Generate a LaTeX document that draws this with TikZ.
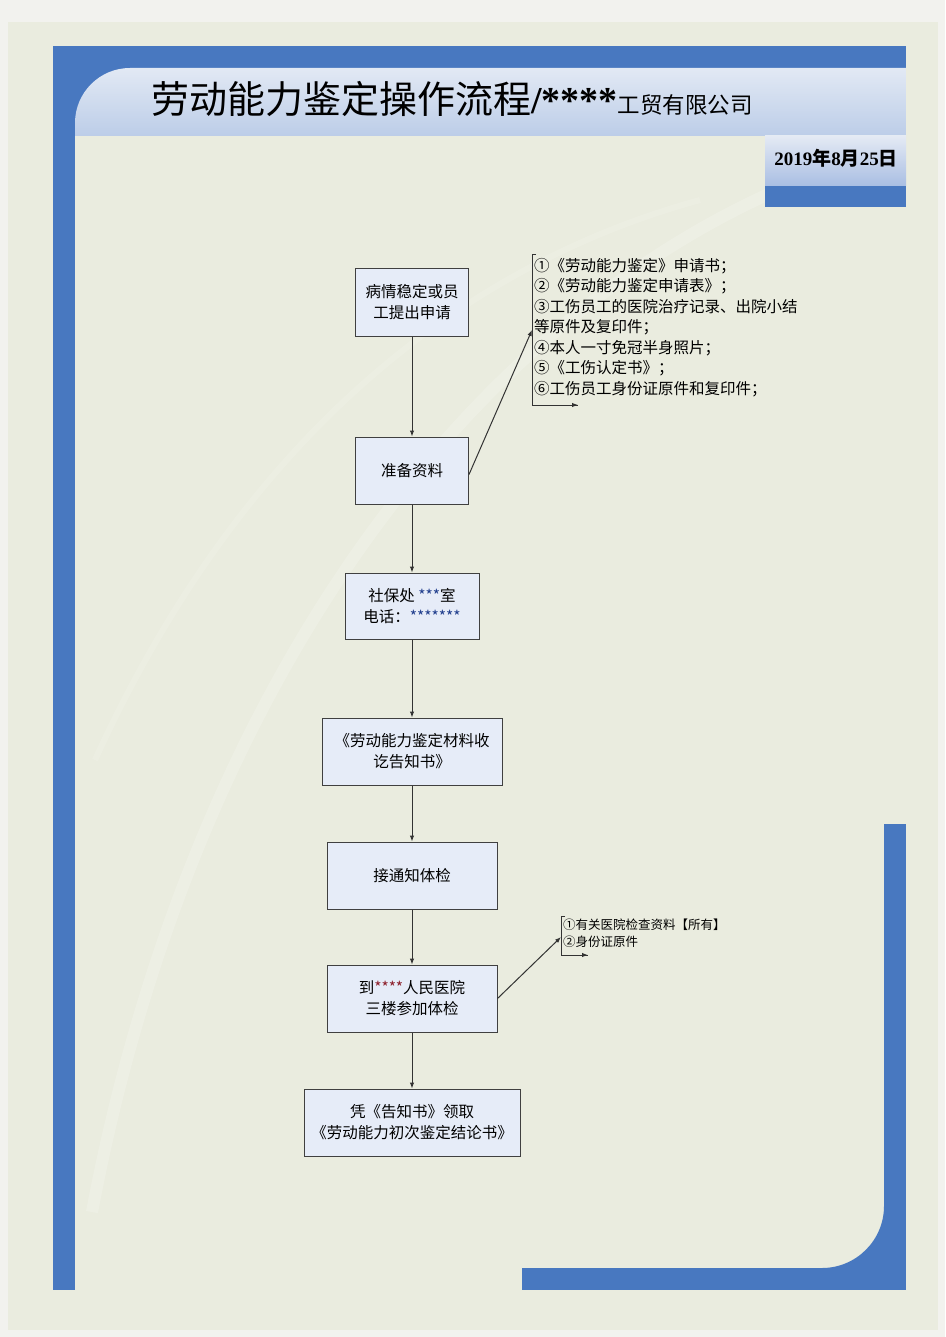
\documentclass[tikz,border=0pt]{standalone}
\usepackage{fontspec}
\setmainfont{Liberation Serif}
\newfontfamily\cjk{Noto Sans CJK SC}
\usetikzlibrary{arrows.meta}
\definecolor{outerbg}{HTML}{F2F2EE}
\definecolor{pagebg}{HTML}{EAECDF}
\definecolor{frameblue}{HTML}{4878C0}
\definecolor{bandtop}{HTML}{E2E9F4}
\definecolor{bandbot}{HTML}{BCCDE8}
\definecolor{datetop}{HTML}{E4EAF4}
\definecolor{datebot}{HTML}{A9BEE3}
\definecolor{boxfill}{HTML}{E6ECF8}
\definecolor{boxline}{HTML}{404040}
\definecolor{linegray}{HTML}{333333}
\definecolor{starblue}{HTML}{1E3C8C}
\definecolor{starred}{HTML}{8C1E2A}
\tikzset{
  flowbox/.style={draw=boxline,line width=1pt,fill=boxfill,inner sep=0pt,align=center,
    font=\cjk\fontsize{15.5}{21}\selectfont},
  conn/.style={draw=linegray,line width=1pt,-{Latex[length=6pt,width=4.5pt]}},
  plainline/.style={draw=linegray,line width=1pt},
  listtext/.style={inner sep=0pt,align=left,anchor=north west}
}
\begin{document}
\begin{tikzpicture}[x=1pt,y=-1pt]
\useasboundingbox (0,0) rectangle (945,1337);
\fill[outerbg] (0,0) rectangle (945,1337);
\fill[pagebg] (8,22) rectangle (938,1330);
% faint swooshes
\draw[white,opacity=0.18,line width=12pt] (92,1212) .. controls (200,640) and (520,250) .. (890,150);
\draw[white,opacity=0.12,line width=6pt] (95,760) .. controls (250,420) and (480,260) .. (700,200);
% frame
\fill[frameblue] (53,46) rectangle (906,136);
\shade[top color=bandtop,bottom color=bandbot] (75,136) [rounded corners=55pt] -- (75,68) [sharp corners] -- (906,68) -- (906,136) -- cycle;
\shade[top color=datetop,bottom color=datebot] (765,136) rectangle (906,186);
\fill[frameblue] (765,186) rectangle (906,207);
\fill[frameblue] (53,46) rectangle (75,1290);
\fill[frameblue] (884,824) rectangle (906,1290);
\fill[frameblue] (522,1268) rectangle (906,1290);
\fill[frameblue] (884,1206) -- (884,1268) -- (822,1268) .. controls (856.2,1268) and (884,1240.2) .. (884,1206) -- cycle;
% title
\node[anchor=base west,inner sep=0pt] (title) at (151,114)
  {{\cjk\fontsize{38}{40}\selectfont 劳动能力鉴定操作流程}{\bfseries\fontsize{38}{40}\selectfont /****}{\cjk\fontsize{22.5}{24}\selectfont 工贸有限公司}};
\node[anchor=base east,inner sep=0pt] (date) at (898,166)
  {\bfseries\fontsize{19}{20}\selectfont 2019{\cjk 年}8{\cjk 月}25{\cjk 日}};
% flow nodes
\node[flowbox,minimum width=113pt,minimum height=67pt] (n1) at (412,302.5) {病情稳定或员\\工提出申请};
\node[flowbox,minimum width=113pt,minimum height=67pt] (n2) at (412,470.5) {准备资料};
\node[flowbox,minimum width=134pt,minimum height=66pt] (n3) at (412,606) {社保处 {\color{starblue}***}室\\电话：{\color{starblue}*******}};
\node[flowbox,minimum width=180pt,minimum height=67pt] (n4) at (412,751.5) {《劳动能力鉴定材料收\\讫告知书》};
\node[flowbox,minimum width=170pt,minimum height=67pt] (n5) at (412,875.5) {接通知体检};
\node[flowbox,minimum width=170pt,minimum height=67pt] (n6) at (412,998.5) {到{\color{starred}****}人民医院\\三楼参加体检};
\node[flowbox,minimum width=216pt,minimum height=67pt] (n7) at (412,1122.5) {凭《告知书》领取\\《劳动能力初次鉴定结论书》};
\draw[conn] (n1.south) -- (n2.north);
\draw[conn] (n2.south) -- (n3.north);
\draw[conn] (n3.south) -- (n4.north);
\draw[conn] (n4.south) -- (n5.north);
\draw[conn] (n5.south) -- (n6.north);
\draw[conn] (n6.south) -- (n7.north);
% list 1
\coordinate (b1top) at (536,255);
\coordinate (b1mid) at (532,330);
\coordinate (b1bot) at (578,405);
\draw[plainline] (b1top) -- (532,255) -- (532,405) -- (b1bot);
\draw[conn] (532,405) -- (b1bot);
\draw[conn] ([yshift=-4pt]n2.east) -- (b1mid);
\node[listtext,font=\cjk\fontsize{15.5}{20.5}\selectfont] (list1) at (534,258)
 {①《劳动能力鉴定》申请书；\\②《劳动能力鉴定申请表》；\\③工伤员工的医院治疗记录、出院小结\\等原件及复印件；\\④本人一寸免冠半身照片；\\⑤《工伤认定书》；\\⑥工伤员工身份证原件和复印件；};
% list 2
\coordinate (b2top) at (565,916);
\coordinate (b2mid) at (561,937);
\coordinate (b2bot) at (588,955);
\draw[plainline] (b2top) -- (561,916) -- (561,955) -- (b2bot);
\draw[conn] (561,955) -- (b2bot);
\draw[conn] (n6.east) -- (b2mid);
\node[listtext,font=\cjk\fontsize{12.5}{17}\selectfont] (list2) at (563,919)
 {①有关医院检查资料【所有】\\②身份证原件};
\end{tikzpicture}
\end{document}
